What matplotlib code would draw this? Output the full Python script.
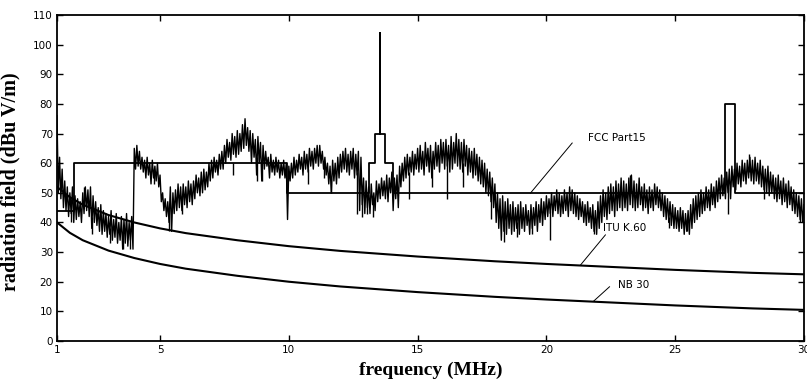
import numpy as np
import matplotlib
matplotlib.use("Agg")
import matplotlib.pyplot as plt

# ---- measured radiation trace: upper / lower edge of the noisy band (dBuV/m),
#      read every 0.1 MHz from 1.0 to 30.0 MHz ----
trace_hi = [
    76, 62, 58, 54, 52, 50, 52, 49, 48, 47,   # 1.x
    50, 52, 51, 52, 49, 47, 45, 46, 44, 43,   # 2.x
    42, 44, 41, 43, 40, 42, 41, 43, 40, 42,   # 3.x
    65, 66, 64, 62, 61, 62, 60, 61, 59, 60,   # 4.x
    56, 50, 48, 47, 52, 50, 51, 53, 52, 53,   # 5.x
    52, 54, 53, 54, 56, 55, 57, 58, 57, 60,   # 6.x
    61, 62, 61, 63, 64, 66, 68, 67, 70, 69,   # 7.x
    71, 70, 73, 75, 72, 71, 70, 68, 69, 67,   # 8.x
    66, 64, 62, 63, 61, 62, 61, 60, 61, 60,   # 9.x
    59, 60, 62, 61, 63, 62, 64, 63, 65, 64,   # 10.x
    65, 66, 66, 64, 62, 60, 59, 61, 60, 62,   # 11.x
    63, 64, 65, 63, 64, 65, 63, 64, 62, 55,   # 12.x
    54, 52, 53, 50, 54, 53, 55, 54, 56, 55,   # 13.x
    57, 55, 56, 59, 60, 62, 63, 62, 64, 63,   # 14.x
    65, 66, 64, 67, 65, 66, 64, 67, 66, 68,   # 15.x
    67, 68, 66, 69, 67, 70, 68, 67, 68, 66,   # 16.x
    65, 64, 65, 63, 62, 61, 60, 58, 57, 55,   # 17.x
    53, 50, 48, 49, 47, 48, 46, 47, 45, 46,   # 18.x
    47, 45, 46, 44, 46, 45, 47, 46, 48, 47,   # 19.x
    49, 48, 50, 49, 51, 50, 49, 51, 50, 52,   # 20.x
    51, 50, 49, 48, 47, 46, 47, 45, 46, 44,   # 21.x
    47, 49, 51, 50, 52, 53, 52, 54, 53, 55,   # 22.x
    54, 53, 55, 56, 54, 53, 55, 52, 53, 51,   # 23.x
    52, 51, 53, 52, 51, 50, 49, 48, 47, 46,   # 24.x
    45, 44, 45, 44, 43, 44, 46, 48, 49, 50,   # 25.x
    51, 50, 52, 51, 53, 52, 54, 55, 56, 55,   # 26.x
    57, 58, 59, 58, 60, 59, 61, 60, 61, 62,   # 27.x
    61, 62, 60, 61, 59, 58, 59, 57, 56, 55,   # 28.x
    56, 54, 55, 53, 54, 52, 51, 50, 49, 48,   # 29.x
    46,                                       # 30.0
]
trace_lo = [
    50, 48, 45, 44, 42, 43, 40, 41, 42, 40,   # 1.x
    43, 44, 42, 38, 40, 39, 37, 36, 37, 35,   # 2.x
    36, 34, 35, 33, 34, 31, 33, 32, 34, 31,   # 3.x
    58, 59, 58, 57, 55, 56, 53, 55, 54, 52,   # 4.x
    47, 44, 42, 40, 37, 43, 44, 45, 44, 46,   # 5.x
    45, 47, 46, 48, 50, 49, 50, 51, 52, 54,   # 6.x
    55, 57, 56, 58, 58, 60, 62, 61, 63, 62,   # 7.x
    63, 64, 65, 66, 64, 60, 62, 56, 60, 54,   # 8.x
    58, 59, 55, 57, 56, 57, 55, 56, 55, 41,   # 9.x
    54, 55, 56, 57, 58, 56, 58, 57, 59, 58,   # 10.x
    60, 59, 60, 58, 56, 53, 50, 54, 53, 55,   # 11.x
    57, 58, 57, 56, 58, 55, 56, 44, 46, 43,   # 12.x
    45, 43, 46, 44, 47, 48, 49, 48, 47, 50,   # 13.x
    44, 48, 45, 52, 54, 55, 56, 57, 56, 58,   # 14.x
    57, 58, 56, 59, 57, 55, 58, 59, 57, 60,   # 15.x
    58, 59, 57, 58, 60, 59, 58, 57, 59, 56,   # 16.x
    57, 55, 56, 54, 53, 52, 50, 49, 47, 45,   # 17.x
    40, 38, 34, 37, 36, 38, 36, 37, 38, 36,   # 18.x
    38, 37, 39, 36, 38, 39, 37, 40, 39, 41,   # 19.x
    42, 43, 42, 44, 43, 42, 43, 44, 42, 44,   # 20.x
    43, 42, 41, 42, 40, 39, 40, 38, 37, 36,   # 21.x
    38, 40, 42, 41, 43, 44, 42, 44, 45, 44,   # 22.x
    45, 44, 46, 45, 44, 45, 46, 44, 45, 43,   # 23.x
    45, 44, 46, 45, 44, 42, 41, 40, 39, 38,   # 24.x
    38, 37, 38, 36, 37, 36, 38, 40, 41, 42,   # 25.x
    43, 44, 45, 44, 46, 45, 47, 48, 49, 48,   # 26.x
    50, 48, 52, 51, 53, 52, 54, 53, 55, 54,   # 27.x
    53, 54, 53, 52, 51, 50, 49, 50, 48, 47,   # 28.x
    48, 46, 47, 45, 46, 44, 43, 42, 41, 40,   # 29.x
    42,                                       # 30.0
]
trace_freq = np.linspace(1, 30, len(trace_hi))

# isolated strokes of the trace that reach beyond the band
spike_freq = [1.55, 2.05, 2.35, 3.05, 3.55, 3.85, 4.75, 5.35, 5.85, 7.85, 8.75, 8.95,
              10.75, 11.35, 11.65, 12.65, 12.85, 13.05, 13.25, 14.65, 15.55, 16.15,
              16.75, 17.85, 18.35, 18.85, 19.45, 20.15, 21.85, 23.25, 24.75, 25.45,
              27.05, 27.85, 28.45, 29.85]
spike_from = [48, 46, 42, 38, 36, 37, 57, 45, 49, 60, 62, 60,
              58, 60, 55, 57, 50, 48, 48, 57, 60, 60,
              60, 52, 40, 40, 42, 44, 40, 50, 42, 40,
              52, 57, 55, 44]
spike_to = [40, 52, 36, 33, 31, 31, 53, 37, 43, 56, 54, 54,
            53, 55, 50, 43, 42, 43, 42, 48, 52, 48,
            52, 41, 33.5, 35, 36, 34, 36, 56, 38, 37,
            43, 63, 48, 40]

# ---- FCC Part15 limit (step line) ----
fcc_freq = [1, 1.67, 1.67, 9.93, 9.93, 13.12, 13.12, 13.36, 13.36, 13.55, 13.55, 13.55,
            13.74, 13.74, 14.03, 14.03, 26.95, 26.95, 27.31, 27.31, 30]
fcc_db = [44, 44, 60, 60, 50, 50, 60, 60, 70, 70, 104, 70,
          70, 60, 60, 50, 50, 80, 80, 50, 50]

# ---- ITU K.60 and NB 30 limit curves ----
curve_freq = [1, 1.5, 2, 3, 4, 5, 6, 8, 10, 12, 15, 18, 20, 22, 25, 28, 30]
k60_db = [52, 48.5, 46, 42.5, 40, 38, 36.4, 34, 32, 30.4, 28.5, 26.9, 26, 25.2, 24, 23, 22.5]
nb30_db = [40, 36.5, 34, 30.5, 28, 26, 24.4, 22, 20, 18.4, 16.5, 14.9, 14, 13.2, 12, 11, 10.5]

x_ticks = [1, 5, 10, 15, 20, 25, 30]
y_ticks = [0, 10, 20, 30, 40, 50, 60, 70, 80, 90, 100, 110]

fig = plt.figure(figsize=(8.07, 3.81), dpi=100)
ax = fig.add_axes([57 / 807, 1 - 341 / 381, 747 / 807, 326 / 381])

# labels for limit curves (drawn under the trace)
ax.text(21.6, 68.5, "FCC Part15", fontsize=7.5, ha="left", va="center", zorder=1)
ax.text(22.2, 38.0, "ITU K.60", fontsize=7.5, ha="left", va="center", zorder=1)
ax.text(22.76, 18.9, "NB 30", fontsize=7.5, ha="left", va="center", zorder=1)
ax.plot([19.38, 21.0], [49.9, 66.8], color="black", lw=0.7, zorder=1)
ax.plot([21.32, 22.29], [25.6, 35.8], color="black", lw=0.7, zorder=1)
ax.plot([21.84, 22.45], [13.5, 18.3], color="black", lw=0.7, zorder=1)

ax.plot(curve_freq, k60_db, color="black", lw=1.5, zorder=2)
ax.plot(curve_freq, nb30_db, color="black", lw=1.5, zorder=2)
ax.plot(fcc_freq, fcc_db, color="black", lw=1.3, zorder=3)

# noisy trace: zig-zag between upper and lower edge of the band
step = trace_freq[1] - trace_freq[0]
zz_f = np.empty(2 * len(trace_freq))
zz_v = np.empty(2 * len(trace_freq))
zz_f[0::2] = trace_freq
zz_f[1::2] = trace_freq + step / 2
zz_v[0::2] = trace_hi
zz_v[1::2] = trace_lo
keep = zz_f <= 30
ax.plot(zz_f[keep], zz_v[keep], color="black", lw=1.0, zorder=4)
ax.vlines(spike_freq, spike_from, spike_to, color="black", lw=1.0, zorder=4)

ax.set_xlim(1, 30)
ax.set_ylim(0, 110)
ax.set_xticks(x_ticks)
ax.set_yticks(y_ticks)
ax.tick_params(direction="in", length=4, width=1, top=True, right=True,
               labelsize=7.5, pad=3)
for s in ax.spines.values():
    s.set_linewidth(1.3)

ax.set_xlabel("frequency (MHz)", fontfamily="Liberation Serif", fontweight="bold",
              fontsize=14)
ax.xaxis.set_label_coords(0.5, -0.062)
ax.set_ylabel("radiation field (dBu V/m)", fontfamily="Liberation Serif",
              fontweight="bold", fontsize=14.5)
ax.yaxis.set_label_coords(-0.049, 0.49)

fig.savefig("out.png", dpi=100)
